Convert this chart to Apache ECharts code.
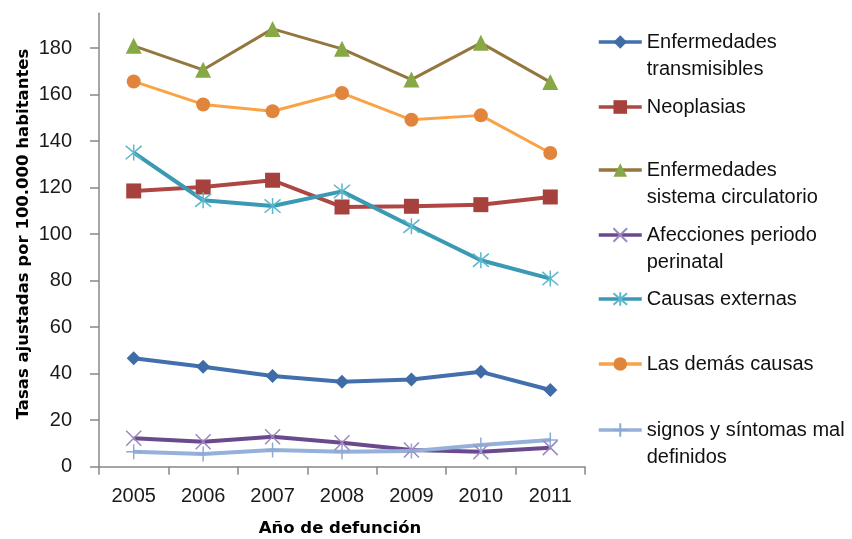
<!DOCTYPE html>
<html>
<head>
<meta charset="utf-8">
<script src="https://cdn.jsdelivr.net/npm/echarts@6/dist/echarts.min.js"></script>
<style>html,body{margin:0;padding:0;background:#fff}#c{width:852px;height:539px}</style>
</head>
<body>
<div id="c"></div>
<script>
const years = ['2005', '2006', '2007', '2008', '2009', '2010', '2011'];
const transmisibles = [46.6, 43.0, 39.0, 36.5, 37.5, 40.8, 33.0];
const neoplasias = [118.6, 120.3, 123.2, 111.7, 112.0, 112.7, 116.0];
const circulatorio = [181.0, 170.7, 188.3, 179.7, 166.5, 182.3, 165.4];
const perinatal = [12.2, 10.7, 12.9, 10.3, 7.2, 6.4, 8.2];
const externas = [135.1, 114.6, 112.1, 118.4, 103.4, 88.8, 80.9];
const demas = [165.7, 155.8, 152.9, 160.7, 149.2, 151.1, 134.9];
const signos = [6.4, 5.5, 7.2, 6.4, 6.7, 9.3, 11.5];
const yTicks = [0, 20, 40, 60, 80, 100, 120, 140, 160, 180];
const names = ['Enfermedades\ntransmisibles', 'Neoplasias', 'Enfermedades\nsistema circulatorio',
  'Afecciones periodo\nperinatal', 'Causas externas', 'Las demás causas', 'signos y síntomas mal\ndefinidos'];
const yTitle = 'Tasas ajustadas por 100.000 habitantes';
const xTitle = 'Año de defunción';

const X_PATH = 'path://M0,0L10,10M10,0L0,10';
const STAR_PATH = 'path://M0,0L10,10M10,0L0,10M5,-1L5,11';
const PLUS_PATH = 'path://M5,0L5,10M0,5L10,5';

function lineSeries(name, data, lineColor, symbol, size, markerStyle, width) {
  return {
    name: name, type: 'line', data: data, symbol: symbol, symbolSize: size,
    lineStyle: { color: lineColor, width: width },
    itemStyle: markerStyle,
    emphasis: { disabled: true },
    animation: false
  };
}

const series = [
  lineSeries(names[0], transmisibles, '#4170AC', 'diamond', 14, { color: '#3F6CA6' }, 4),
  lineSeries(names[1], neoplasias, '#AE4743', 'rect', 15, { color: '#A7413E' }, 4),
  lineSeries(names[2], circulatorio, '#93773E', 'triangle', 16, { color: '#86A845' }, 3),
  lineSeries(names[3], perinatal, '#6A4A8C', X_PATH, 15, { color: 'rgba(0,0,0,0)', borderColor: '#9E87BE', borderWidth: 1.5 }, 4),
  lineSeries(names[4], externas, '#3A9AB3', STAR_PATH, 16, { color: 'rgba(0,0,0,0)', borderColor: '#5CB6CC', borderWidth: 1.5 }, 4),
  lineSeries(names[5], demas, '#F9A346', 'circle', 14, { color: '#E0853B' }, 3),
  lineSeries(names[6], signos, '#95B1DA', PLUS_PATH, 15, { color: 'rgba(0,0,0,0)', borderColor: '#8EA9D3', borderWidth: 1.5 }, 4)
];

const centers = [42, 107, 170, 235, 299, 364, 430];
const legends = names.map(function (n, i) {
  const two = n.indexOf('\n') >= 0;
  const H = two ? 81 : 27;
  return {
    data: [n], left: 597, top: centers[i] - H / 2, orient: 'vertical', padding: 0,
    itemWidth: 43, itemHeight: 17, itemGap: 0, selectedMode: false,
    lineStyle: { width: 3.5 },
    formatter: function (s) { return two ? '\n' + s : s; },
    textStyle: { fontFamily: 'Liberation Sans', fontSize: 20, color: '#111', lineHeight: 27 }
  };
});

const chart = echarts.init(document.getElementById('c'), null, { renderer: 'canvas' });
chart.setOption({
  backgroundColor: '#fff',
  animation: false,
  grid: { left: 99, right: 267, top: 13.3, bottom: 72.3, containLabel: false },
  legend: legends,
  xAxis: {
    type: 'category', data: years, boundaryGap: true,
    axisLine: { lineStyle: { color: '#888', width: 1.5 } },
    axisTick: { show: true, length: 8, lineStyle: { color: '#888', width: 1.5 } },
    axisLabel: { fontFamily: 'Liberation Sans', fontSize: 20, color: '#1a1a1a', margin: 20 }
  },
  yAxis: {
    type: 'value', min: 0, max: 195,
    axisLine: { show: true, lineStyle: { color: '#888', width: 1.5 } },
    axisTick: { show: true, length: 9, customValues: yTicks, lineStyle: { color: '#888', width: 1.5 } },
    axisLabel: { fontFamily: 'Liberation Sans', fontSize: 20, color: '#1a1a1a', margin: 27, customValues: yTicks },
    splitLine: { show: false }
  },
  graphic: [
    { type: 'text', x: 24, y: 234, rotation: Math.PI / 2,
      style: { text: yTitle, fontFamily: 'DejaVu Sans', fontWeight: 'bold', fontSize: 16.5, fill: '#000',
        textAlign: 'center', textVerticalAlign: 'middle' } },
    { type: 'text', x: 340, y: 529,
      style: { text: xTitle, fontFamily: 'DejaVu Sans', fontWeight: 'bold', fontSize: 16.5, fill: '#000',
        textAlign: 'center', textVerticalAlign: 'middle' } }
  ],
  series: series
});
</script>
</body>
</html>
